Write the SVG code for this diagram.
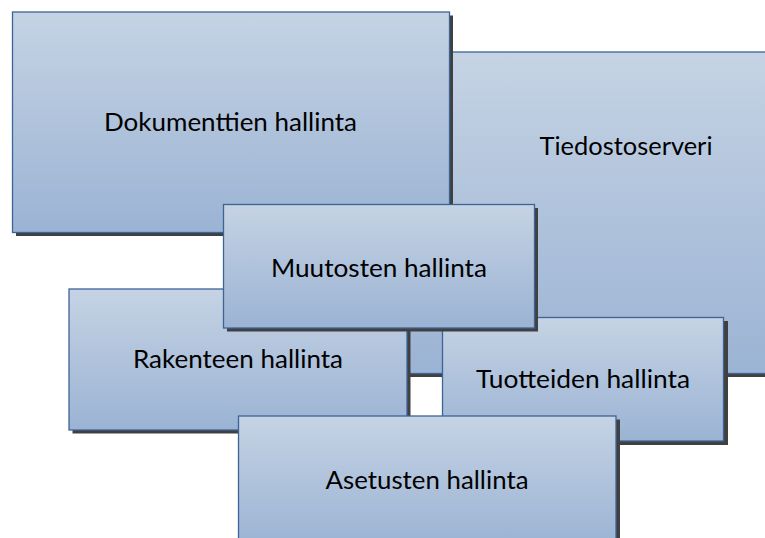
<svg xmlns="http://www.w3.org/2000/svg" width="765" height="538" viewBox="0 0 765 538">
<defs>
<linearGradient id="g" x1="0" y1="0" x2="0" y2="1">
<stop offset="0" stop-color="#c5d3e4"/>
<stop offset="1" stop-color="#9bb3d4"/>
</linearGradient>
<style>
.sh{fill:#404040}
.bx{fill:url(#g);stroke:#3e6497;stroke-width:1.3}
.t{font-family:Lato,"Open Sans","Liberation Sans",sans-serif;font-size:25px;fill:#000;text-anchor:middle}
</style>
</defs>
<rect width="765" height="538" fill="#fff"/>
<g id="tiedostoserveri">
<rect class="sh" x="304" y="55.5" width="520" height="321.5"/>
<rect class="bx" x="300" y="52" width="520" height="321.5"/>
<text class="t" x="626" y="155" textLength="173" lengthAdjust="spacingAndGlyphs">Tiedostoserveri</text>
</g>
<g id="dokumenttien">
<rect class="sh" x="16" y="15.5" width="437" height="220.5"/>
<rect class="bx" x="12.5" y="12" width="437" height="220.5"/>
<text class="t" x="230.5" y="131" textLength="253" lengthAdjust="spacingAndGlyphs">Dokumenttien hallinta</text>
</g>
<g id="rakenteen">
<rect class="sh" x="72.5" y="292.5" width="338" height="141"/>
<rect class="bx" x="69" y="289" width="338" height="141"/>
<text class="t" x="238" y="368" textLength="210" lengthAdjust="spacingAndGlyphs">Rakenteen hallinta</text>
</g>
<g id="tuotteiden">
<rect class="sh" x="446" y="321" width="282" height="124"/>
<rect class="bx" x="442.5" y="317.5" width="281" height="123.5"/>
<text class="t" x="583" y="388" textLength="214" lengthAdjust="spacingAndGlyphs">Tuotteiden hallinta</text>
</g>
<g id="muutosten">
<rect class="sh" x="227" y="208" width="311" height="123.5"/>
<rect class="bx" x="223.5" y="204.5" width="311" height="123.5"/>
<text class="t" x="379" y="277" textLength="216" lengthAdjust="spacingAndGlyphs">Muutosten hallinta</text>
</g>
<g id="asetusten">
<rect class="sh" x="242" y="419.5" width="378" height="130"/>
<rect class="bx" x="238.5" y="416" width="377.5" height="130"/>
<text class="t" x="427" y="489" textLength="203" lengthAdjust="spacingAndGlyphs">Asetusten hallinta</text>
</g>
<g id="connectors"/>
</svg>
